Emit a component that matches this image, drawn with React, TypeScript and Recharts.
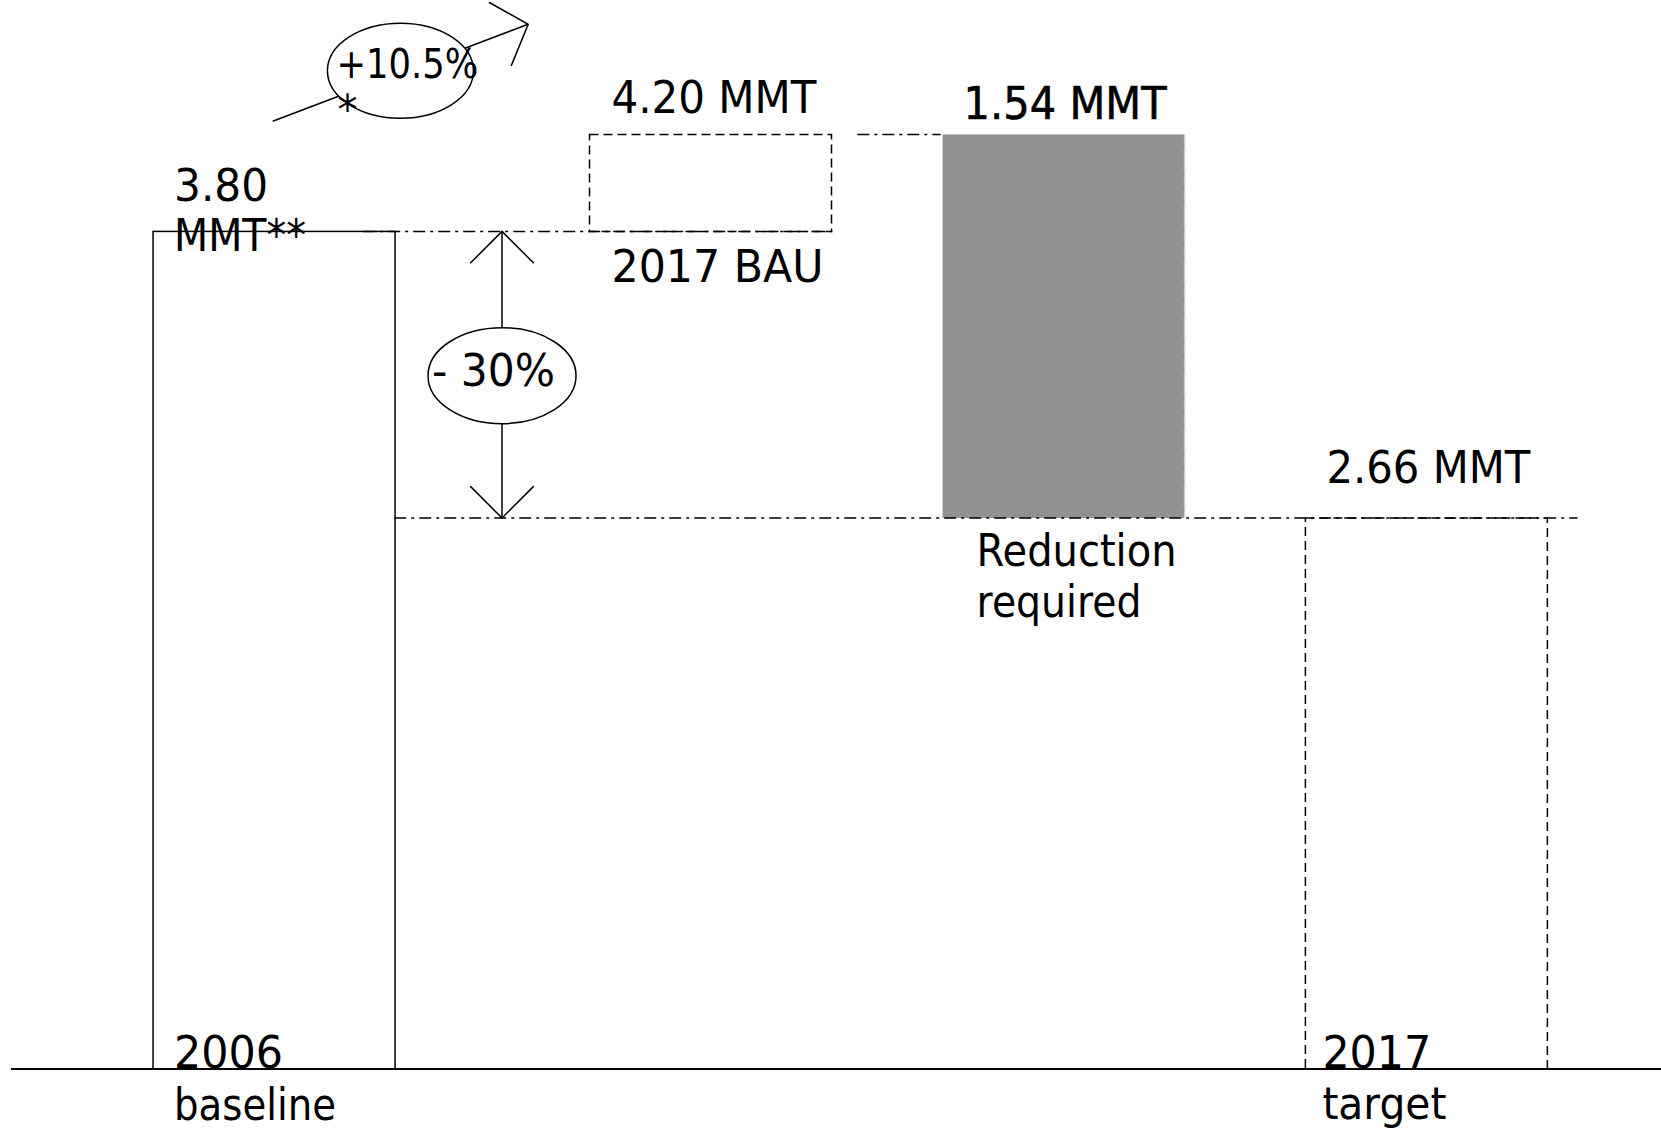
import React from "react";
import { ComposedChart, Bar, XAxis, YAxis, ReferenceLine } from "recharts";

// Stages of the diagram (drawn roughly, not strictly to scale in the original)
const stages = ["2006 baseline", "2017 BAU", "Reduction required", "2017 target"];
const stagePositions = [2.96, 7.88, 11.86, 15.95];
const barBottoms = [0, 3.8, 2.5, 0];
const barTops = [3.8, 4.24, 4.24, 2.5];
const valueLabels = [["3.80", "MMT**"], ["4.20 MMT"], ["1.54 MMT"], ["2.66 MMT"]];
const nameLabels = [["2006", "baseline"], ["2017 BAU"], ["Reduction", "required"], ["2017", "target"]];
const changeLabels = ["+10.5%", "- 30%"];

// dash-dot guide lines: level, start, end (x in stage units)
const guideLevels = [3.8, 4.24, 2.5];
const guideFrom = [3.97, 9.54, 4.32];
const guideTo = [9.26, 10.48, 17.66];

// annotation arrows
const growthArrowX = [2.95, 5.83];
const growthArrowY = [4.3, 4.74];
const reductionArrowX = 5.535;

const data = stages.map((name, i) => ({
  name,
  pos: stagePositions[i],
  range: [barBottoms[i], barTops[i]],
}));

const FONT = "DejaVu Sans";
const textWidths: Record<string, number> = {
  "3.80": 94,
  "MMT**": 132,
  "2006": 109,
  baseline: 162,
  "4.20 MMT": 205,
  "2017 BAU": 212,
  "1.54 MMT": 203,
  Reduction: 200,
  required: 165,
  "2.66 MMT": 204,
  "2017": 109,
  target: 124,
  "+10.5%": 142,
  "- 30%": 123,
  "*": 14,
};

const Txt = ({ x, y, s, size = 45, bold = false }: { x: number; y: number; s: string; size?: number; bold?: boolean }) => (
  <text
    x={x}
    y={y}
    fontSize={size}
    fontFamily={FONT}
    fill="#000"
    stroke={bold ? "#000" : undefined}
    strokeWidth={bold ? 0.6 : undefined}
    textLength={textWidths[s]}
    lengthAdjust="spacingAndGlyphs"
  >
    {s}
  </text>
);

const DASH_BOX = "9 5";

const BarShape = (props: any) => {
  const { x, y, width, height } = props;
  let index = props.index;
  if (props.payload && stages.indexOf(props.payload.name) >= 0) index = stages.indexOf(props.payload.name);
  const top = Math.min(y, y + height);
  const h = Math.abs(height);
  const bottom = top + h;
  const vl = valueLabels[index];
  const nl = nameLabels[index];
  let rect: React.ReactNode = null;
  let texts: React.ReactNode[] = [];
  if (index === 0) {
    rect = <rect x={x} y={top} width={width} height={h} fill="none" stroke="#000" strokeWidth={1.5} />;
    texts = [
      <Txt key="a" x={x + 21} y={top - 30} s={vl[0]} />,
      <Txt key="b" x={x + 21} y={top + 20} s={vl[1]} />,
      <Txt key="c" x={x + 21} y={bottom - 1} s={nl[0]} />,
      <Txt key="d" x={x + 21} y={bottom + 51} s={nl[1]} />,
    ];
  } else if (index === 1) {
    rect = (
      <rect x={x} y={top} width={width} height={h} fill="none" stroke="#000" strokeWidth={1.5} strokeDasharray={DASH_BOX} />
    );
    texts = [
      <Txt key="a" x={x + 22} y={top - 21} s={vl[0]} />,
      <Txt key="b" x={x + 22} y={bottom + 51} s={nl[0]} />,
    ];
  } else if (index === 2) {
    rect = (
      <g>
        <rect x={x} y={top} width={width} height={h} fill="#929292" />
        <line x1={x + width} y1={top} x2={x + width} y2={bottom} stroke="#d0d0d0" strokeWidth={1.5} strokeDasharray={DASH_BOX} />
      </g>
    );
    texts = [
      <Txt key="a" x={x + 21} y={top - 15} s={vl[0]} bold />,
      <Txt key="b" x={x + 34} y={bottom + 48} s={nl[0]} />,
      <Txt key="c" x={x + 34} y={bottom + 99} s={nl[1]} />,
    ];
  } else {
    rect = (
      <rect x={x} y={top} width={width} height={h} fill="none" stroke="#000" strokeWidth={1.5} strokeDasharray={DASH_BOX} />
    );
    texts = [
      <Txt key="a" x={x + 21} y={top - 35} s={vl[0]} />,
      <Txt key="b" x={x + 17} y={bottom - 1} s={nl[0]} />,
      <Txt key="c" x={x + 17} y={bottom + 50} s={nl[1]} />,
    ];
  }
  return (
    <g>
      {rect}
      {texts}
    </g>
  );
};

const armPath = (tx: number, ty: number, fx: number, fy: number, len: number, degA: number, degB: number) => {
  const base = Math.atan2(fy - ty, fx - tx);
  const a = base + (degA * Math.PI) / 180;
  const b = base + (degB * Math.PI) / 180;
  return `M${tx + len * Math.cos(a)},${ty + len * Math.sin(a)} L${tx},${ty} L${tx + len * Math.cos(b)},${ty + len * Math.sin(b)}`;
};

const GrowthArrow = (props: any) => {
  const { x1, y1, x2, y2 } = props;
  const cx = (x1 + x2) / 2;
  const cy = (y1 + y2) / 2 - 2;
  return (
    <g>
      <line x1={x1} y1={y1} x2={x2} y2={y2} stroke="#000" strokeWidth={1.5} />
      <path d={armPath(x2, y2, x1, y1, 45, -47, 50)} fill="none" stroke="#000" strokeWidth={1.5} />
      <ellipse cx={cx} cy={cy} rx={73} ry={47.5} fill="#fff" stroke="#000" strokeWidth={1.5} />
      <Txt x={cx - 64} y={cy + 7} s={changeLabels[0]} size={40} />
      <text x={cx - 63} y={cy + 53} fontSize={40} fontFamily={FONT} fill="#000">
        *
      </text>
    </g>
  );
};

const ReductionArrow = (props: any) => {
  const { x1, y1, x2, y2 } = props;
  const cx = (x1 + x2) / 2;
  const cy = (y1 + y2) / 2 + 1;
  return (
    <g>
      <line x1={x1} y1={y1} x2={x2} y2={y2} stroke="#000" strokeWidth={1.5} />
      <path d={armPath(x1, y1, x2, y2, 45, -45, 45)} fill="none" stroke="#000" strokeWidth={1.5} />
      <path d={armPath(x2, y2, x1, y1, 45, -45, 45)} fill="none" stroke="#000" strokeWidth={1.5} />
      <ellipse cx={cx} cy={cy} rx={74} ry={48} fill="#fff" stroke="#000" strokeWidth={1.5} />
      <Txt x={cx - 70} y={cy + 10} s={changeLabels[1]} size={45} />
    </g>
  );
};

export default function App() {
  return (
    <div style={{ position: "absolute", left: 0, top: 0, width: 1661, height: 1130, background: "#fff" }}>
      <ComposedChart width={1661} height={1130} data={data} margin={{ top: 11, right: 0, bottom: 31, left: 11 }}>
        <XAxis
          type="number"
          dataKey="pos"
          domain={[0, 18.6]}
          tick={false}
          tickLine={false}
          axisLine={{ stroke: "#000", strokeWidth: 2 }}
          height={30}
        />
        <YAxis type="number" domain={[0, 4.8]} hide />
        {guideLevels.map((lvl, i) => (
          <ReferenceLine
            key={i}
            segment={[
              { x: guideFrom[i], y: lvl },
              { x: guideTo[i], y: lvl },
            ]}
            stroke="#000"
            strokeWidth={1.5}
            strokeDasharray="12 5 3 5"
          />
        ))}
        <Bar dataKey="range" barSize={242} isAnimationActive={false} shape={BarShape} />
        <ReferenceLine
          segment={[
            { x: reductionArrowX, y: guideLevels[0] },
            { x: reductionArrowX, y: guideLevels[2] },
          ]}
          shape={ReductionArrow}
        />
        <ReferenceLine
          segment={[
            { x: growthArrowX[0], y: growthArrowY[0] },
            { x: growthArrowX[1], y: growthArrowY[1] },
          ]}
          shape={GrowthArrow}
        />
      </ComposedChart>
    </div>
  );
}
